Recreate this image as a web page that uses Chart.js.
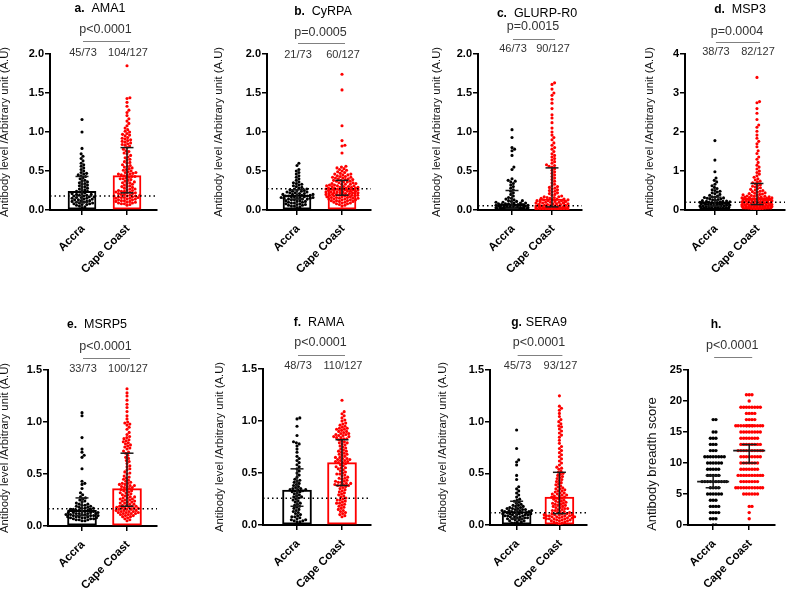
<!DOCTYPE html>
<html><head><meta charset="utf-8">
<script src="https://cdn.jsdelivr.net/npm/chart.js@4.4.1/dist/chart.umd.min.js"></script>
<style>
html,body{margin:0;padding:0;background:#fff;}
#wrap{position:relative;width:793px;height:589px;overflow:hidden;background:#fff;}
canvas{position:absolute;}
</style></head><body><div id="wrap"></div>
<script>
const categories = ['Accra', 'Cape Coast'];
const titleBold = ['a.', 'b.', 'c.', 'd.', 'e.', 'f.', 'g.', 'h.'];
const titleName = ['AMA1', 'CyRPA', 'GLURP-R0', 'MSP3', 'MSRP5', 'RAMA', 'SERA9', ''];
const pValues = ['p<0.0001', 'p=0.0005', 'p=0.0015', 'p=0.0004', 'p<0.0001', 'p<0.0001', 'p<0.0001', 'p<0.0001'];
const accraPositive = ['45/73', '21/73', '46/73', '38/73', '33/73', '48/73', '45/73', ''];
const capePositive = ['104/127', '60/127', '90/127', '82/127', '100/127', '110/127', '93/127', ''];
const cutoffs = [0.18, 0.274, 0.056, 0.197, 0.167, 0.258, 0.119, null];
const yTitles = ['Antibody level /Arbitrary unit (A.U)', 'Antibody level /Arbitrary unit (A.U)', 'Antibody level /Arbitrary unit (A.U)', 'Antibody level /Arbitrary unit (A.U)', 'Antibody level /Arbitrary unit (A.U)', 'Antibody level /Arbitrary unit (A.U)', 'Antibody level /Arbitrary unit (A.U)', 'Antibody breadth score'];
const yMaxes = [2, 2, 2, 4, 1.5, 1.5, 1.5, 25];
const ySteps = [0.5, 0.5, 0.5, 1, 0.5, 0.5, 0.5, 5];
const yDecimals = [1, 1, 1, 0, 1, 1, 1, 0];

// bar heights (centre value) and error bar ranges [Accra, Cape Coast]
const barCentre = [[0.24, 0.44], [0.19, 0.27], [0.075, 0.14], [0.20, 0.30], [0.15, 0.36], [0.335, 0.60], [0.13, 0.27], [7, 12]];
const errLow = [[0.10, 0.22], [0.14, 0.19], [0.02, 0.04], [0.10, 0.14], [0.10, 0.19], [0.18, 0.38], [0.06, 0.11], [6, 10]];
const errHigh = [[0.43, 0.80], [0.26, 0.38], [0.25, 0.54], [0.33, 0.68], [0.27, 0.70], [0.54, 0.82], [0.23, 0.51], [8, 13]];

const ama1Accra = [1.16,1.00,0.79,0.72,0.69,0.66,0.63,0.60,0.58,0.56,0.54,0.52,0.50,0.48,0.47,0.46,0.45,0.44,0.43,0.41,0.40,0.38,0.37,0.36,0.35,0.34,0.33,0.32,0.31,0.30,0.29,0.28,0.27,0.26,0.25,0.24,0.24,0.23,0.22,0.21,0.21,0.20,0.20,0.19,0.19,0.18,0.18,0.17,0.17,0.16,0.16,0.15,0.15,0.14,0.14,0.13,0.13,0.12,0.12,0.11,0.11,0.10,0.10,0.09,0.09,0.08,0.08,0.07,0.07,0.06,0.05,0.04,0.03];
const ama1Cape = [1.85,1.44,1.43,1.38,1.33,1.28,1.25,1.21,1.17,1.14,1.11,1.08,1.05,1.03,1.01,1.00,0.98,0.97,0.96,0.95,0.93,0.92,0.91,0.90,0.89,0.88,0.87,0.86,0.85,0.84,0.83,0.82,0.80,0.78,0.76,0.75,0.73,0.72,0.70,0.68,0.67,0.65,0.64,0.62,0.61,0.60,0.58,0.57,0.56,0.55,0.54,0.53,0.52,0.51,0.50,0.49,0.48,0.48,0.47,0.46,0.46,0.45,0.45,0.44,0.43,0.43,0.42,0.41,0.40,0.40,0.39,0.38,0.37,0.36,0.35,0.35,0.34,0.33,0.32,0.31,0.30,0.30,0.29,0.28,0.27,0.27,0.26,0.25,0.25,0.24,0.24,0.23,0.23,0.22,0.22,0.21,0.21,0.20,0.20,0.19,0.19,0.18,0.18,0.18,0.17,0.17,0.16,0.16,0.16,0.15,0.15,0.14,0.14,0.13,0.13,0.12,0.12,0.11,0.11,0.10,0.10,0.09,0.09,0.08,0.08,0.07,0.06];

const cyrpaAccra = [0.60,0.57,0.52,0.50,0.48,0.46,0.44,0.42,0.40,0.38,0.36,0.35,0.34,0.33,0.32,0.31,0.30,0.29,0.28,0.27,0.27,0.26,0.25,0.25,0.24,0.24,0.23,0.23,0.22,0.22,0.21,0.21,0.20,0.20,0.20,0.19,0.19,0.19,0.18,0.18,0.18,0.17,0.17,0.17,0.16,0.16,0.16,0.15,0.15,0.15,0.14,0.14,0.14,0.13,0.13,0.12,0.12,0.11,0.11,0.10,0.10,0.09,0.09,0.08,0.08,0.07,0.07,0.06,0.06,0.05,0.05,0.04,0.03];
const cyrpaCape = [1.74,1.54,1.08,0.89,0.83,0.82,0.73,0.56,0.55,0.54,0.53,0.52,0.51,0.50,0.49,0.48,0.47,0.46,0.46,0.45,0.45,0.44,0.43,0.43,0.42,0.42,0.41,0.41,0.40,0.40,0.39,0.39,0.38,0.38,0.37,0.37,0.36,0.36,0.35,0.35,0.34,0.34,0.33,0.33,0.33,0.32,0.32,0.31,0.31,0.31,0.30,0.30,0.30,0.29,0.29,0.29,0.28,0.28,0.28,0.28,0.27,0.27,0.27,0.27,0.27,0.26,0.26,0.26,0.25,0.25,0.25,0.24,0.24,0.24,0.23,0.23,0.23,0.23,0.22,0.22,0.22,0.22,0.21,0.21,0.21,0.21,0.20,0.20,0.20,0.20,0.19,0.19,0.19,0.19,0.19,0.18,0.18,0.18,0.17,0.17,0.17,0.16,0.16,0.16,0.15,0.15,0.15,0.14,0.14,0.14,0.13,0.13,0.13,0.12,0.12,0.12,0.11,0.11,0.10,0.10,0.09,0.09,0.08,0.08,0.07,0.06,0.05];

const glurpAccra = [1.03,0.93,0.80,0.78,0.76,0.70,0.55,0.52,0.40,0.38,0.37,0.36,0.34,0.32,0.30,0.28,0.26,0.24,0.22,0.20,0.18,0.16,0.15,0.14,0.13,0.12,0.12,0.11,0.11,0.10,0.10,0.09,0.09,0.09,0.08,0.08,0.08,0.07,0.07,0.07,0.07,0.06,0.06,0.06,0.06,0.05,0.05,0.05,0.05,0.04,0.04,0.04,0.04,0.04,0.03,0.03,0.03,0.03,0.03,0.03,0.02,0.02,0.02,0.02,0.02,0.02,0.01,0.01,0.01,0.01,0.01,0.00,0.00];
const glurpCape = [1.63,1.61,1.55,1.50,1.47,1.42,1.37,1.30,1.22,1.18,1.12,1.05,1.00,0.96,0.93,0.90,0.86,0.83,0.80,0.78,0.75,0.72,0.70,0.68,0.66,0.64,0.62,0.60,0.58,0.57,0.56,0.55,0.53,0.51,0.49,0.47,0.45,0.43,0.41,0.39,0.37,0.35,0.33,0.31,0.30,0.29,0.28,0.27,0.26,0.25,0.24,0.23,0.22,0.21,0.20,0.19,0.18,0.17,0.17,0.16,0.16,0.15,0.15,0.14,0.14,0.13,0.13,0.13,0.12,0.12,0.12,0.11,0.11,0.11,0.10,0.10,0.10,0.09,0.09,0.09,0.08,0.08,0.08,0.07,0.07,0.07,0.06,0.06,0.06,0.05,0.05,0.05,0.05,0.04,0.04,0.04,0.04,0.04,0.03,0.03,0.03,0.03,0.03,0.03,0.02,0.02,0.02,0.02,0.02,0.02,0.02,0.01,0.01,0.01,0.01,0.01,0.01,0.01,0.01,0.00,0.00,0.00,0.00,0.00,0.00,0.00,0.00];

const msp3Accra = [1.78,1.28,0.98,0.82,0.76,0.72,0.66,0.62,0.58,0.55,0.52,0.50,0.48,0.46,0.44,0.42,0.40,0.38,0.36,0.34,0.33,0.32,0.31,0.30,0.29,0.28,0.27,0.26,0.25,0.24,0.23,0.22,0.22,0.21,0.21,0.20,0.20,0.19,0.19,0.18,0.18,0.17,0.17,0.16,0.16,0.15,0.15,0.14,0.14,0.13,0.13,0.12,0.12,0.11,0.11,0.10,0.10,0.09,0.09,0.08,0.08,0.07,0.07,0.06,0.06,0.05,0.05,0.04,0.04,0.03,0.03,0.02,0.01];
const msp3Cape = [3.40,2.78,2.75,2.60,2.48,2.32,2.18,2.12,2.02,1.92,1.84,1.76,1.70,1.62,1.52,1.45,1.36,1.30,1.22,1.15,1.10,1.05,1.00,0.96,0.92,0.88,0.84,0.80,0.77,0.74,0.72,0.70,0.67,0.65,0.63,0.61,0.59,0.57,0.55,0.53,0.51,0.50,0.48,0.47,0.46,0.44,0.43,0.42,0.41,0.40,0.39,0.38,0.37,0.36,0.35,0.35,0.34,0.33,0.33,0.32,0.32,0.31,0.31,0.30,0.29,0.29,0.28,0.28,0.27,0.27,0.26,0.26,0.25,0.25,0.24,0.24,0.23,0.23,0.22,0.22,0.21,0.21,0.20,0.20,0.19,0.19,0.18,0.18,0.17,0.17,0.16,0.16,0.15,0.15,0.14,0.14,0.13,0.13,0.13,0.12,0.12,0.12,0.11,0.11,0.11,0.10,0.10,0.10,0.09,0.09,0.09,0.08,0.08,0.08,0.07,0.07,0.07,0.06,0.06,0.06,0.05,0.05,0.04,0.04,0.03,0.03,0.02];

const msrp5Accra = [1.09,1.06,0.85,0.74,0.71,0.68,0.66,0.55,0.43,0.41,0.40,0.36,0.32,0.30,0.28,0.27,0.26,0.25,0.24,0.23,0.22,0.21,0.21,0.20,0.20,0.19,0.19,0.18,0.18,0.17,0.17,0.17,0.16,0.16,0.16,0.15,0.15,0.15,0.14,0.14,0.14,0.13,0.13,0.13,0.13,0.12,0.12,0.12,0.12,0.11,0.11,0.11,0.11,0.10,0.10,0.10,0.10,0.09,0.09,0.09,0.09,0.08,0.08,0.08,0.08,0.07,0.07,0.07,0.06,0.06,0.06,0.05,0.05];
const msrp5Cape = [1.32,1.28,1.25,1.21,1.17,1.14,1.10,1.06,1.03,1.00,0.99,0.98,0.97,0.95,0.93,0.90,0.88,0.86,0.85,0.84,0.83,0.82,0.81,0.80,0.79,0.78,0.77,0.76,0.75,0.74,0.72,0.71,0.70,0.68,0.66,0.65,0.63,0.62,0.60,0.58,0.57,0.55,0.54,0.52,0.51,0.50,0.48,0.47,0.46,0.45,0.44,0.43,0.42,0.41,0.41,0.40,0.40,0.39,0.39,0.38,0.38,0.37,0.37,0.36,0.35,0.35,0.34,0.34,0.33,0.32,0.32,0.31,0.30,0.30,0.29,0.28,0.28,0.27,0.27,0.26,0.26,0.25,0.25,0.24,0.24,0.23,0.23,0.22,0.22,0.21,0.21,0.20,0.20,0.19,0.19,0.19,0.18,0.18,0.18,0.17,0.17,0.17,0.16,0.16,0.16,0.15,0.15,0.15,0.14,0.14,0.14,0.13,0.13,0.13,0.12,0.12,0.12,0.11,0.11,0.10,0.10,0.09,0.09,0.08,0.07,0.06,0.05];

const ramaAccra = [1.03,1.02,0.95,0.86,0.80,0.79,0.78,0.76,0.73,0.70,0.66,0.64,0.62,0.60,0.58,0.56,0.54,0.52,0.50,0.48,0.46,0.44,0.43,0.42,0.41,0.40,0.39,0.38,0.37,0.36,0.35,0.35,0.34,0.34,0.34,0.33,0.33,0.32,0.32,0.31,0.30,0.29,0.28,0.27,0.27,0.26,0.25,0.24,0.23,0.22,0.21,0.20,0.19,0.18,0.17,0.16,0.15,0.14,0.13,0.12,0.11,0.10,0.09,0.08,0.08,0.07,0.06,0.05,0.05,0.04,0.04,0.03,0.03];
const ramaCape = [1.20,1.09,1.07,1.05,1.03,1.01,1.00,0.98,0.97,0.96,0.95,0.94,0.93,0.93,0.92,0.92,0.91,0.90,0.90,0.89,0.88,0.88,0.87,0.87,0.86,0.86,0.85,0.85,0.84,0.84,0.83,0.83,0.82,0.81,0.80,0.79,0.79,0.78,0.77,0.76,0.75,0.74,0.73,0.72,0.71,0.71,0.70,0.69,0.68,0.68,0.67,0.66,0.65,0.65,0.64,0.64,0.63,0.63,0.62,0.62,0.61,0.61,0.60,0.60,0.59,0.58,0.57,0.56,0.55,0.55,0.54,0.53,0.52,0.51,0.50,0.49,0.49,0.48,0.47,0.46,0.45,0.45,0.44,0.43,0.42,0.42,0.41,0.41,0.40,0.40,0.39,0.39,0.38,0.38,0.38,0.37,0.36,0.35,0.34,0.33,0.32,0.31,0.30,0.29,0.28,0.27,0.26,0.25,0.24,0.24,0.23,0.22,0.21,0.21,0.20,0.19,0.18,0.17,0.16,0.15,0.14,0.13,0.12,0.11,0.10,0.09,0.08];

const sera9Accra = [0.92,0.74,0.63,0.61,0.58,0.48,0.44,0.37,0.35,0.33,0.31,0.29,0.27,0.25,0.24,0.23,0.22,0.21,0.20,0.19,0.19,0.18,0.18,0.17,0.17,0.16,0.16,0.16,0.15,0.15,0.15,0.14,0.14,0.14,0.14,0.13,0.13,0.13,0.13,0.12,0.12,0.12,0.12,0.11,0.11,0.11,0.11,0.10,0.10,0.10,0.10,0.09,0.09,0.09,0.08,0.08,0.08,0.07,0.07,0.07,0.06,0.06,0.06,0.05,0.05,0.04,0.04,0.03,0.03,0.02,0.02,0.01,0.00];
const sera9Cape = [1.25,1.15,1.13,1.11,1.08,1.05,1.02,1.00,0.98,0.96,0.95,0.93,0.91,0.89,0.87,0.85,0.82,0.79,0.76,0.74,0.72,0.70,0.68,0.66,0.64,0.62,0.60,0.58,0.56,0.55,0.54,0.52,0.51,0.50,0.49,0.48,0.47,0.46,0.45,0.44,0.43,0.42,0.41,0.40,0.39,0.38,0.37,0.36,0.35,0.35,0.34,0.33,0.33,0.32,0.31,0.31,0.30,0.30,0.29,0.29,0.28,0.28,0.27,0.27,0.26,0.26,0.25,0.25,0.24,0.23,0.23,0.22,0.22,0.21,0.21,0.20,0.20,0.19,0.19,0.18,0.18,0.17,0.17,0.16,0.16,0.15,0.15,0.14,0.14,0.13,0.13,0.12,0.12,0.11,0.11,0.11,0.10,0.10,0.10,0.10,0.09,0.09,0.09,0.09,0.08,0.08,0.08,0.08,0.07,0.07,0.07,0.07,0.06,0.06,0.06,0.06,0.05,0.05,0.05,0.04,0.04,0.04,0.03,0.03,0.02,0.02,0.01];

// antibody breadth score: number of individuals at each score
const breadthScores = [0,1,2,3,4,5,6,7,8,9,10,11,12,13,14,15,16,17,18,19,20,21];
const breadthAccraCounts = [2,3,4,4,3,6,4,10,5,5,6,8,3,3,3,2,0,2,0,0,0,0];
const breadthCapeCounts = [0,1,1,2,0,6,11,7,10,7,7,8,10,8,7,8,14,4,4,8,1,3];

function expandCounts(scores, counts) {
  const out = [];
  scores.forEach((s, i) => { for (let k = 0; k < counts[i]; k++) out.push(s); });
  return out;
}
const breadthAccra = expandCounts(breadthScores, breadthAccraCounts);
const breadthCape = expandCounts(breadthScores, breadthCapeCounts);

const groupAccra = [ama1Accra, cyrpaAccra, glurpAccra, msp3Accra, msrp5Accra, ramaAccra, sera9Accra, breadthAccra];
const groupCape = [ama1Cape, cyrpaCape, glurpCape, msp3Cape, msrp5Cape, ramaCape, sera9Cape, breadthCape];

// ---- layout (absolute page pixels) ----
const boxes = [
  {left:0,   top:0,   w:195, h:290, ax:50,  ar:157, at:54,  ab:210, c0:82,  c1:127, bw:28, tx:100, ty:9,   py:30,  ly:41,  cy:53,  ytx:5,   yty:132, yts:11.3},
  {left:195, top:0,   w:200, h:290, ax:267, ar:371, at:54,  ab:210, c0:297, c1:342, bw:28, tx:323, ty:12,  py:33,  ly:43,  cy:55,  ytx:219, yty:132, yts:11.3},
  {left:395, top:0,   w:200, h:290, ax:478, ar:582, at:54,  ab:210, c0:512, c1:552, bw:26, tx:537, ty:14,  py:27,  ly:39,  cy:49,  ytx:437, yty:132, yts:11.3},
  {left:595, top:0,   w:198, h:290, ax:685, ar:792, at:54,  ab:210, c0:717, c1:762, bw:30, tx:740, ty:10,  py:32,  ly:42,  cy:52,  ytx:650, yty:132, yts:11.3},
  {left:0,   top:290, w:195, h:299, ax:48,  ar:157, at:370, ab:526, c0:82,  c1:127, bw:29, tx:97,  ty:325, py:347, ly:358, cy:369, ytx:5,   yty:448, yts:11.3},
  {left:195, top:290, w:200, h:299, ax:263, ar:371, at:369, ab:525, c0:297, c1:342, bw:29, tx:319, ty:323, py:343, ly:355, cy:366, ytx:220, yty:447, yts:11.3},
  {left:395, top:290, w:200, h:299, ax:490, ar:592, at:370, ab:525, c0:518, c1:563, bw:29, tx:539, ty:323, py:343, ly:355, cy:366, ytx:443, yty:447, yts:11.3},
  {left:595, top:290, w:198, h:299, ax:688, ar:792, at:370, ab:525, c0:718, c1:761, bw:0,  tx:716, ty:325, py:346, ly:357, cy:0,   ytx:652, yty:464, yts:13}
];

const FONT = "'Liberation Sans', Arial, Helvetica, sans-serif";
const RED = '#ff0000';

function swarm(values, pxY, d, maxW) {
  const order = values.map((v, i) => i).sort((a, b) => values[a] - values[b]);
  const placed = [];
  const out = new Array(values.length);
  for (const i of order) {
    const y = values[i] * pxY;
    const near = placed.filter(p => Math.abs(p.y - y) < d);
    const cands = [0];
    for (const p of near) {
      const dx = Math.sqrt(Math.max(0, d * d - (p.y - y) * (p.y - y)));
      cands.push(p.x + dx + 0.01, p.x - dx - 0.01);
    }
    cands.sort((a, b) => Math.abs(a) - Math.abs(b));
    let best = null;
    for (const c of cands) {
      if (Math.abs(c) > maxW) continue;
      if (near.every(p => (p.x - c) * (p.x - c) + (p.y - y) * (p.y - y) >= d * d - 0.01)) { best = c; break; }
    }
    if (best === null) {
      let bestScore = Infinity;
      for (let k = 0; k <= 2 * maxW * 2; k++) {
        const c = (k % 2 ? 1 : -1) * Math.ceil(k / 2) * 0.5;
        if (Math.abs(c) > maxW) continue;
        const s = near.reduce((acc, p) => acc + Math.max(0, d - Math.hypot(p.x - c, p.y - y)), 0);
        if (s < bestScore - 1e-6) { bestScore = s; best = c; }
      }
    }
    placed.push({x: best, y});
    out[i] = best;
  }
  return out;
}

const wrap = document.getElementById('wrap');

const textPlugin = {
  id: 'panelText',
  afterDraw(chart, args, opts) {
    const i = opts.idx, b = boxes[i];
    const ctx = chart.ctx;
    const xs = chart.scales.x;
    const x0 = xs.getPixelForValue(0), x1 = xs.getPixelForValue(1);
    const mid = (x0 + x1) / 2;
    ctx.save();
    ctx.textBaseline = 'middle';
    ctx.fillStyle = '#000';
    // panel title
    ctx.font = 'bold 12px ' + FONT;
    const wb = ctx.measureText(titleBold[i]).width;
    ctx.font = '12.5px ' + FONT;
    const gap = titleName[i] ? (i === 6 ? 4 : 7) : 0;
    const wn = titleName[i] ? ctx.measureText(titleName[i]).width : 0;
    const tx = b.tx - b.left, ty = b.ty - b.top;
    const start = tx - (wb + gap + wn) / 2;
    ctx.textAlign = 'left';
    ctx.font = 'bold 12px ' + FONT;
    ctx.fillText(titleBold[i], start, ty);
    if (titleName[i]) { ctx.font = '12.5px ' + FONT; ctx.fillText(titleName[i], start + wb + gap, ty); }
    // p value and bracket
    ctx.textAlign = 'center';
    ctx.fillStyle = '#333';
    ctx.font = '12.5px ' + FONT;
    ctx.fillText(pValues[i], mid + 1, b.py - b.top);
    ctx.strokeStyle = '#808080';
    ctx.lineWidth = 1;
    ctx.beginPath();
    ctx.moveTo(x0 + 1, b.ly - b.top + 0.5);
    ctx.lineTo(x1 + 3, b.ly - b.top + 0.5);
    ctx.stroke();
    // positive counts
    if (accraPositive[i]) {
      ctx.font = '11px ' + FONT;
      ctx.fillText(accraPositive[i], x0 + 1, b.cy - b.top);
      ctx.fillText(capePositive[i], x1 + 1, b.cy - b.top);
    }
    // y axis title
    ctx.fillStyle = '#111';
    ctx.font = b.yts + 'px ' + FONT;
    ctx.translate(b.ytx - b.left, b.yty - b.top);
    ctx.rotate(-Math.PI / 2);
    ctx.fillText(yTitles[i], 0, 0);
    ctx.restore();
  }
};

boxes.forEach((b, i) => {
  const cv = document.createElement('canvas');
  cv.width = b.w; cv.height = b.h;
  cv.style.left = b.left + 'px'; cv.style.top = b.top + 'px';
  cv.style.width = b.w + 'px'; cv.style.height = b.h + 'px';
  wrap.appendChild(cv);

  const unit = b.c1 - b.c0;
  const xmin = (b.ax - b.c0) / unit, xmax = (b.ar - b.c0) / unit;
  const ymax = yMaxes[i];
  const pxY = (b.ab - b.at) / ymax;
  const isBreadth = i === 7;
  const d = isBreadth ? 3.3 : 3.0;
  const maxW = 16;
  const rad = isBreadth ? 1.7 : 1.55;

  const datasets = [];
  const groups = [groupAccra[i], groupCape[i]];
  const colors = ['#000000', RED];

  // bars
  if (!isBreadth) {
    datasets.push({
      type: 'bar', order: 10,
      data: [{x: 0, y: barCentre[i][0]}, {x: 1, y: barCentre[i][1]}],
      backgroundColor: '#ffffff', borderColor: colors, borderWidth: 2,
      borderSkipped: false, barThickness: b.bw
    });
  }
  // dots
  groups.forEach((vals, g) => {
    const offs = swarm(vals, pxY, d, maxW);
    datasets.push({
      type: 'scatter', order: 8,
      data: vals.map((v, k) => ({x: g + offs[k] / unit, y: v})),
      pointRadius: rad, pointBackgroundColor: colors[g], pointBorderWidth: 0,
      pointHoverRadius: rad
    });
  });
  // cut-off line
  if (cutoffs[i] !== null) {
    datasets.push({
      type: 'line', order: 6,
      data: [{x: xmin, y: cutoffs[i]}, {x: xmax, y: cutoffs[i]}],
      borderColor: '#000', borderWidth: 1.5, borderDash: [1.5, 3], pointRadius: 0, fill: false
    });
  }
  // error bars
  [0, 1].forEach(g => {
    datasets.push({
      type: 'line', order: 4,
      data: [{x: g, y: errLow[i][g]}, {x: g, y: errHigh[i][g]}],
      borderColor: '#1a1a1a', borderWidth: 1.5, pointRadius: 0, fill: false
    });
  });
  datasets.push({
    type: 'scatter', order: 2,
    data: [{x: 0, y: errLow[i][0]}, {x: 0, y: errHigh[i][0]}, {x: 1, y: errLow[i][1]}, {x: 1, y: errHigh[i][1]}],
    pointStyle: 'line', pointRadius: isBreadth ? 7.5 : 6.5, pointBorderColor: '#1a1a1a', pointBorderWidth: 1.5,
    pointHoverRadius: 6.5
  });
  if (isBreadth) {
    datasets.push({
      type: 'scatter', order: 1,
      data: [{x: 0, y: barCentre[i][0]}, {x: 1, y: barCentre[i][1]}],
      pointStyle: 'line', pointRadius: 16, pointBorderColor: '#1a1a1a', pointBorderWidth: 1.8,
      pointHoverRadius: 16
    });
  }

  const dec = yDecimals[i];
  new Chart(cv, {
    type: 'scatter',
    data: {datasets},
    options: {
      responsive: false, animation: false, devicePixelRatio: 1,
      events: [],
      layout: {padding: {left: 0, top: b.at - b.top, right: b.w - (b.ar - b.left), bottom: 0}},
      plugins: {legend: {display: false}, tooltip: {enabled: false}, title: {display: false}, panelText: {idx: i}},
      scales: {
        x: {
          type: 'linear', min: xmin, max: xmax, offset: false,
          afterBuildTicks: s => { s.ticks = [{value: 0}, {value: 1}]; },
          afterFit: s => { s.height = b.h - (b.ab - b.top); },
          ticks: {
            callback: v => categories[v], autoSkip: false, minRotation: 45, maxRotation: 45,
            color: '#000', padding: 7, labelOffset: 1, font: {family: FONT, size: 11.5, weight: 'bold'}
          },
          grid: {display: true, drawOnChartArea: false, drawTicks: true, tickLength: 5, color: '#000', lineWidth: 1.5, offset: false},
          border: {display: true, color: '#000', width: 2}
        },
        y: {
          type: 'linear', min: 0, max: ymax,
          afterFit: s => { s.width = b.ax - b.left; },
          ticks: {
            stepSize: ySteps[i], color: '#000', padding: 1,
            callback: v => Number(v).toFixed(dec),
            font: {family: FONT, size: 11, weight: 'bold'}
          },
          grid: {display: true, drawOnChartArea: false, drawTicks: true, tickLength: 5, color: '#000', lineWidth: 1.5},
          border: {display: true, color: '#000', width: 2}
        }
      }
    },
    plugins: [textPlugin]
  });
});
</script>
</body></html>
